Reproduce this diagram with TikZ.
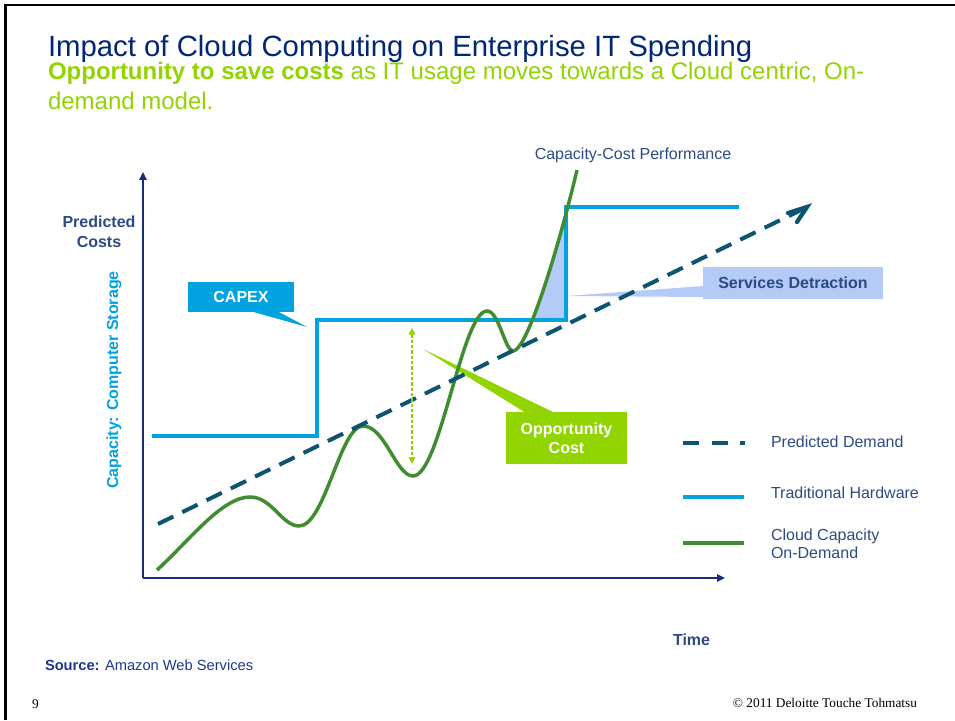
\documentclass[tikz,border=0pt]{standalone}
\usepackage{fontspec}
\setmainfont{Liberation Sans}
\newfontfamily\serifft{Liberation Serif}
\usetikzlibrary{arrows.meta}
\definecolor{titleblue}{RGB}{0,39,118}
\definecolor{limegreen}{RGB}{146,212,0}
\definecolor{hwcyan}{RGB}{0,163,224}
\definecolor{demandteal}{RGB}{12,84,112}
\definecolor{cloudgreen}{RGB}{64,140,48}
\definecolor{detractblue}{RGB}{180,203,247}
\definecolor{axisnavy}{RGB}{25,45,120}
\definecolor{labelnavy}{RGB}{45,75,130}
\definecolor{sourcenavy}{RGB}{30,55,140}
\tikzset{
  txt/.style={inner sep=0pt, outer sep=0pt},
  lbl/.style={txt, font=\fontsize{12}{14.4}\selectfont, text=labelnavy},
  lblbold/.style={lbl, font=\fontsize{12}{14.4}\selectfont\bfseries},
  axisline/.style={draw=axisnavy, line width=1.5pt, -{Triangle[length=6pt,width=5.5pt]}},
  hwline/.style={draw=hwcyan, line width=3.4pt, line join=miter},
  cloudline/.style={draw=cloudgreen, line width=2.6pt},
  demandline/.style={draw=demandteal, line width=3pt, dash pattern=on 12.75pt off 7.5pt},
  legdemand/.style={draw=demandteal, line width=3pt, dash pattern=on 12pt off 9.5pt},
  calloutbox/.style={txt, font=\fontsize{12}{14.4}\selectfont\bfseries, align=center},
}
\begin{document}
\begin{tikzpicture}[x=0.75pt,y=-0.75pt]
\useasboundingbox (0,0) rectangle (955,720);
\fill[white] (0,0) rectangle (955,720);
% frame
\draw[black, line width=2.2pt] (5.5,720) -- (5.5,5) -- (955,5);

% titles
\node[txt, anchor=base west, font=\fontsize{22}{26}\selectfont, text=titleblue] (title) at (48,57) {Impact of Cloud Computing on Enterprise IT Spending};
\node[txt, anchor=base west, font=\fontsize{18}{22}\selectfont, text=limegreen] (sub1) at (48,80) {\textbf{Opportunity to save costs} as IT usage moves towards a Cloud centric, On-};
\node[txt, anchor=base west, font=\fontsize{18}{22}\selectfont, text=limegreen] (sub2) at (48,110) {demand model.};

% callouts (drawn below lines)
\node[calloutbox, fill=hwcyan, text=white, minimum width=79.5pt, minimum height=22.5pt] (capex) at (241,297) {CAPEX};
\fill[hwcyan] (250,311) -- (307,327) -- (277,311) -- cycle;
\node[calloutbox, fill=detractblue, text=labelnavy, minimum width=135pt, minimum height=24pt] (detract) at (793,283) {Services Detraction};
\fill[detractblue] (704,286) -- (566,296) -- (704,297) -- cycle;
\node[calloutbox, fill=limegreen, text=white, minimum width=90.75pt, minimum height=39pt] (oppbox) at (566.5,438) {Opportunity\\Cost};
\fill[limegreen] (526,413) -- (423,349) -- (555,413) -- cycle;

% axes
\coordinate (O) at (143,578);
\coordinate (ytop) at (143,172);
\coordinate (xend) at (725,578);
\draw[axisline] (O) -- (ytop);
\draw[axisline] (O) -- (xend);

% services detraction area
\begin{scope}
  \clip (500,320) rectangle (566,195);
  \fill[detractblue] (513,351) .. controls (527,351) and (558,250) .. (577,170) -- (620,170) -- (620,351) -- cycle;
\end{scope}

% traditional hardware
\draw[hwline] (152,436) -- (317,436) -- (317,320) -- (566,320) -- (566,207) -- (739,207);

% cloud capacity
\draw[cloudline] (157,570) .. controls (190,540) and (222,497) .. (250,497)
  .. controls (272,497) and (282,526) .. (299,526)
  .. controls (325,526) and (340,426) .. (363,426)
  .. controls (385,426) and (396,476) .. (413,476)
  .. controls (440,476) and (462,311) .. (487,311)
  .. controls (499,311) and (505,351) .. (513,351)
  .. controls (527,351) and (558,250) .. (577,170);

% predicted demand
\coordinate (d0) at (158,524);
\coordinate (d1) at (801,210);
\draw[demandline] (d0) -- (d1);
\coordinate (tipA) at (788,213);
\coordinate (tip) at (807,207);
\coordinate (tipB) at (797,222);
\draw[draw=demandteal, line width=3.2pt, line cap=round, line join=miter] (tipA) -- (tip) -- (tipB);

% opportunity double arrow
\coordinate (oa) at (412,328);
\coordinate (ob) at (412,464);
\draw[draw=limegreen, line width=1pt, dash pattern=on 2.5pt off 1.5pt, {Triangle[length=5pt,width=5pt]}-{Triangle[length=5pt,width=5pt]}] (oa) -- (ob);

% axis labels
\node[lblbold, anchor=base] (pc1) at (99,228) {Predicted};
\node[lblbold, anchor=base] (pc2) at (99,247) {Costs};
\node[lblbold, text=hwcyan, rotate=90, anchor=center] (cap) at (114,380) {Capacity: Computer Storage};
\node[lbl, anchor=base] (ccp) at (633,160) {Capacity-Cost Performance};
\node[lblbold, anchor=base west] (time) at (673,645) {Time};

% legend
\coordinate (l1a) at (683,443); \coordinate (l1b) at (745,443);
\draw[legdemand] (l1a) -- (l1b);
\node[lbl, anchor=base west] (leg1) at (771,447) {Predicted Demand};
\coordinate (l2a) at (683,497); \coordinate (l2b) at (744,497);
\draw[hwline] (l2a) -- (l2b);
\node[lbl, anchor=base west] (leg2) at (771,498) {Traditional Hardware};
\coordinate (l3a) at (683,543); \coordinate (l3b) at (744,543);
\draw[draw=cloudgreen, line width=3pt] (l3a) -- (l3b);
\node[lbl, anchor=base west] (leg3a) at (771,540) {Cloud Capacity};
\node[lbl, anchor=base west] (leg3b) at (771,558) {On-Demand};

% footer
\node[txt, anchor=base west, font=\fontsize{11}{13}\selectfont, text=sourcenavy] (source) at (45,670) {\textbf{Source:} Amazon Web Services};
\node[txt, anchor=base west, font=\serifft\fontsize{10}{12}\selectfont] (pagenum) at (32,708) {9};
\node[txt, anchor=base east, font=\serifft\fontsize{10}{12}\selectfont] (copy) at (917,707) {© 2011 Deloitte Touche Tohmatsu};
\end{tikzpicture}
\end{document}
